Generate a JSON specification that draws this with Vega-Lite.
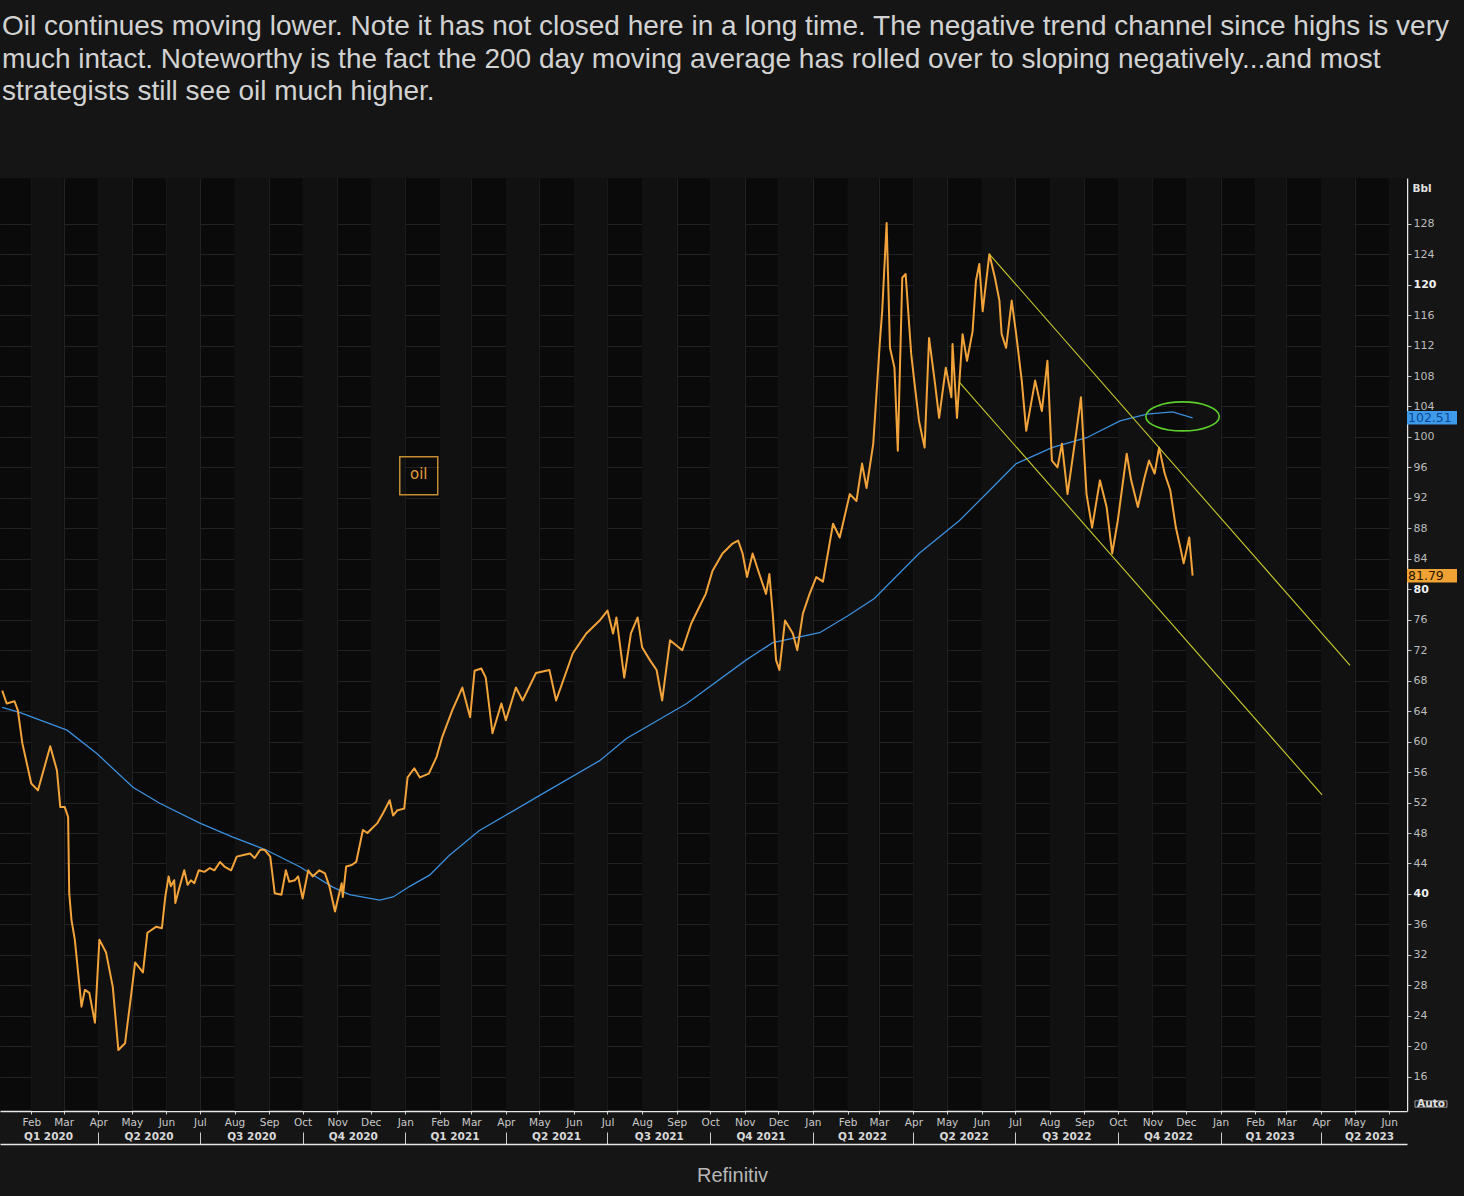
{
  "$schema": "https://vega.github.io/schema/vega-lite/v6.json",
  "width": 1407,
  "height": 933,
  "autosize": {"type": "none"},
  "padding": {"left": 0, "top": 178, "right": 57, "bottom": 85},
  "background": "#151515",
  "title": {
    "text": [
      "Oil continues moving lower. Note it has not closed here in a long time. The negative trend channel since highs is very",
      "much intact. Noteworthy is the fact the 200 day moving average has rolled over to sloping negatively...and most",
      "strategists still see oil much higher."
    ],
    "anchor": "start",
    "frame": "group",
    "font": "Liberation Sans",
    "fontSize": 28,
    "fontWeight": "normal",
    "color": "#d2d2d2",
    "lineHeight": 32.5,
    "offset": 72,
    "dx": 2
  },
  "config": {
    "view": {"fill": "#0a0a0a", "stroke": null},
    "axis": {"labelFont": "DejaVu Sans", "labelFontSize": 10.5, "labelColor": "#c8c8c8"}
  },
  "datasets": {
    "bands": [
      {"start": "2020-02-01", "end": "2020-03-01"}, {"start": "2020-04-01", "end": "2020-05-01"},
      {"start": "2020-06-01", "end": "2020-07-01"}, {"start": "2020-08-01", "end": "2020-09-01"},
      {"start": "2020-10-01", "end": "2020-11-01"}, {"start": "2020-12-01", "end": "2021-01-01"},
      {"start": "2021-02-01", "end": "2021-03-01"}, {"start": "2021-04-01", "end": "2021-05-01"},
      {"start": "2021-06-01", "end": "2021-07-01"}, {"start": "2021-08-01", "end": "2021-09-01"},
      {"start": "2021-10-01", "end": "2021-11-01"}, {"start": "2021-12-01", "end": "2022-01-01"},
      {"start": "2022-02-01", "end": "2022-03-01"}, {"start": "2022-04-01", "end": "2022-05-01"},
      {"start": "2022-06-01", "end": "2022-07-01"}, {"start": "2022-08-01", "end": "2022-09-01"},
      {"start": "2022-10-01", "end": "2022-11-01"}, {"start": "2022-12-01", "end": "2023-01-01"},
      {"start": "2023-02-01", "end": "2023-03-01"}, {"start": "2023-04-01", "end": "2023-05-01"},
      {"start": "2023-06-01", "end": "2023-07-01"}
    ],
    "oil": [
      {"date": "2020-01-06", "value": 66.7}, {"date": "2020-01-10", "value": 65.0}, {"date": "2020-01-17", "value": 65.3},
      {"date": "2020-01-20", "value": 64.1}, {"date": "2020-01-24", "value": 59.8}, {"date": "2020-02-01", "value": 54.5},
      {"date": "2020-02-07", "value": 53.6}, {"date": "2020-02-18", "value": 59.4}, {"date": "2020-02-24", "value": 56.2},
      {"date": "2020-02-27", "value": 51.4}, {"date": "2020-03-02", "value": 51.4}, {"date": "2020-03-05", "value": 50.1},
      {"date": "2020-03-06", "value": 40.1}, {"date": "2020-03-08", "value": 36.6}, {"date": "2020-03-11", "value": 34.0},
      {"date": "2020-03-17", "value": 25.2}, {"date": "2020-03-20", "value": 27.4}, {"date": "2020-03-24", "value": 27.0},
      {"date": "2020-03-29", "value": 23.1}, {"date": "2020-04-02", "value": 34.0}, {"date": "2020-04-08", "value": 32.3},
      {"date": "2020-04-14", "value": 27.8}, {"date": "2020-04-19", "value": 19.5}, {"date": "2020-04-25", "value": 20.4},
      {"date": "2020-05-01", "value": 27.4}, {"date": "2020-05-04", "value": 31.0}, {"date": "2020-05-11", "value": 29.7},
      {"date": "2020-05-15", "value": 34.9}, {"date": "2020-05-23", "value": 35.7}, {"date": "2020-05-28", "value": 35.5},
      {"date": "2020-05-31", "value": 39.6}, {"date": "2020-06-03", "value": 42.3}, {"date": "2020-06-05", "value": 41.0},
      {"date": "2020-06-08", "value": 41.8}, {"date": "2020-06-09", "value": 38.8}, {"date": "2020-06-12", "value": 40.5},
      {"date": "2020-06-17", "value": 43.1}, {"date": "2020-06-20", "value": 41.2}, {"date": "2020-06-23", "value": 41.8},
      {"date": "2020-06-26", "value": 41.4}, {"date": "2020-06-30", "value": 43.1}, {"date": "2020-07-05", "value": 42.9},
      {"date": "2020-07-10", "value": 43.4}, {"date": "2020-07-14", "value": 43.1}, {"date": "2020-07-19", "value": 44.2},
      {"date": "2020-07-23", "value": 43.6}, {"date": "2020-07-29", "value": 43.1}, {"date": "2020-08-03", "value": 44.9},
      {"date": "2020-08-09", "value": 45.1}, {"date": "2020-08-15", "value": 45.3}, {"date": "2020-08-19", "value": 44.7},
      {"date": "2020-08-24", "value": 45.8}, {"date": "2020-08-28", "value": 45.8}, {"date": "2020-09-02", "value": 44.9},
      {"date": "2020-09-06", "value": 40.1}, {"date": "2020-09-12", "value": 39.9}, {"date": "2020-09-16", "value": 43.1},
      {"date": "2020-09-19", "value": 41.6}, {"date": "2020-09-24", "value": 41.8}, {"date": "2020-09-27", "value": 42.3},
      {"date": "2020-10-01", "value": 39.4}, {"date": "2020-10-06", "value": 43.1}, {"date": "2020-10-10", "value": 42.3},
      {"date": "2020-10-16", "value": 43.1}, {"date": "2020-10-21", "value": 42.7}, {"date": "2020-10-25", "value": 41.0},
      {"date": "2020-10-30", "value": 37.7}, {"date": "2020-11-02", "value": 39.6}, {"date": "2020-11-05", "value": 41.4},
      {"date": "2020-11-06", "value": 39.6}, {"date": "2020-11-09", "value": 43.6}, {"date": "2020-11-14", "value": 43.8},
      {"date": "2020-11-18", "value": 44.2}, {"date": "2020-11-24", "value": 48.4}, {"date": "2020-11-28", "value": 48.0},
      {"date": "2020-12-02", "value": 48.6}, {"date": "2020-12-07", "value": 49.3}, {"date": "2020-12-12", "value": 50.6},
      {"date": "2020-12-18", "value": 52.3}, {"date": "2020-12-21", "value": 50.3}, {"date": "2020-12-25", "value": 51.0},
      {"date": "2020-12-31", "value": 51.2}, {"date": "2021-01-03", "value": 55.3},
      {"date": "2021-01-09", "value": 56.5}, {"date": "2021-01-14", "value": 55.3}, {"date": "2021-01-22", "value": 55.8},
      {"date": "2021-01-29", "value": 58.0}, {"date": "2021-02-03", "value": 60.6}, {"date": "2021-02-12", "value": 64.1},
      {"date": "2021-02-21", "value": 67.1}, {"date": "2021-02-28", "value": 63.2}, {"date": "2021-03-04", "value": 69.3},
      {"date": "2021-03-10", "value": 69.6}, {"date": "2021-03-14", "value": 68.4}, {"date": "2021-03-20", "value": 61.1},
      {"date": "2021-03-28", "value": 65.0}, {"date": "2021-04-01", "value": 62.8}, {"date": "2021-04-10", "value": 67.1},
      {"date": "2021-04-16", "value": 65.4}, {"date": "2021-04-28", "value": 69.0}, {"date": "2021-05-10", "value": 69.4},
      {"date": "2021-05-16", "value": 65.4}, {"date": "2021-05-31", "value": 71.6}, {"date": "2021-06-12", "value": 74.2},
      {"date": "2021-06-24", "value": 75.9}, {"date": "2021-07-01", "value": 77.2}, {"date": "2021-07-06", "value": 74.2},
      {"date": "2021-07-09", "value": 76.3}, {"date": "2021-07-16", "value": 68.4}, {"date": "2021-07-22", "value": 74.2},
      {"date": "2021-07-28", "value": 76.3}, {"date": "2021-08-01", "value": 72.4}, {"date": "2021-08-08", "value": 70.7},
      {"date": "2021-08-14", "value": 69.4}, {"date": "2021-08-19", "value": 65.4}, {"date": "2021-08-26", "value": 73.3},
      {"date": "2021-09-06", "value": 72.0}, {"date": "2021-09-14", "value": 75.5}, {"date": "2021-09-21", "value": 77.6},
      {"date": "2021-09-27", "value": 79.4}, {"date": "2021-10-03", "value": 82.4}, {"date": "2021-10-12", "value": 84.7},
      {"date": "2021-10-21", "value": 86.0}, {"date": "2021-10-26", "value": 86.4}, {"date": "2021-10-30", "value": 84.7},
      {"date": "2021-11-03", "value": 81.6}, {"date": "2021-11-08", "value": 84.7}, {"date": "2021-11-14", "value": 82.0},
      {"date": "2021-11-20", "value": 79.4}, {"date": "2021-11-23", "value": 82.0}, {"date": "2021-11-26", "value": 76.8},
      {"date": "2021-11-29", "value": 70.7}, {"date": "2021-12-02", "value": 69.4}, {"date": "2021-12-07", "value": 75.9},
      {"date": "2021-12-14", "value": 74.2}, {"date": "2021-12-18", "value": 72.0}, {"date": "2021-12-23", "value": 76.8},
      {"date": "2021-12-29", "value": 79.4}, {"date": "2022-01-04", "value": 81.6}, {"date": "2022-01-10", "value": 81.0},
      {"date": "2022-01-19", "value": 88.6}, {"date": "2022-01-25", "value": 86.8}, {"date": "2022-02-03", "value": 92.5},
      {"date": "2022-02-09", "value": 91.6}, {"date": "2022-02-14", "value": 96.5}, {"date": "2022-02-18", "value": 93.3},
      {"date": "2022-02-24", "value": 99.1}, {"date": "2022-03-02", "value": 112.6}, {"date": "2022-03-04", "value": 116.5},
      {"date": "2022-03-08", "value": 128.1}, {"date": "2022-03-11", "value": 111.7}, {"date": "2022-03-15", "value": 109.1},
      {"date": "2022-03-18", "value": 98.2}, {"date": "2022-03-22", "value": 120.9}, {"date": "2022-03-25", "value": 121.4},
      {"date": "2022-03-30", "value": 110.9}, {"date": "2022-04-02", "value": 107.0}, {"date": "2022-04-06", "value": 102.1},
      {"date": "2022-04-11", "value": 98.6}, {"date": "2022-04-15", "value": 113.0}, {"date": "2022-04-20", "value": 107.4},
      {"date": "2022-04-24", "value": 102.5}, {"date": "2022-04-30", "value": 109.1}, {"date": "2022-05-05", "value": 105.2},
      {"date": "2022-05-06", "value": 112.2}, {"date": "2022-05-10", "value": 102.5}, {"date": "2022-05-15", "value": 113.5},
      {"date": "2022-05-19", "value": 110.0}, {"date": "2022-05-24", "value": 113.9}, {"date": "2022-05-27", "value": 120.5},
      {"date": "2022-05-30", "value": 122.7}, {"date": "2022-06-02", "value": 116.5}, {"date": "2022-06-08", "value": 124.0},
      {"date": "2022-06-13", "value": 120.9}, {"date": "2022-06-17", "value": 117.9}, {"date": "2022-06-19", "value": 113.5},
      {"date": "2022-06-23", "value": 111.7}, {"date": "2022-06-28", "value": 117.9}, {"date": "2022-07-02", "value": 113.5},
      {"date": "2022-07-07", "value": 107.4}, {"date": "2022-07-11", "value": 100.8}, {"date": "2022-07-19", "value": 107.4},
      {"date": "2022-07-25", "value": 103.4}, {"date": "2022-07-30", "value": 110.0}, {"date": "2022-08-03", "value": 96.9},
      {"date": "2022-08-08", "value": 96.0}, {"date": "2022-08-12", "value": 99.1}, {"date": "2022-08-17", "value": 92.5},
      {"date": "2022-08-25", "value": 100.8}, {"date": "2022-08-29", "value": 105.2}, {"date": "2022-09-03", "value": 92.5},
      {"date": "2022-09-08", "value": 88.1}, {"date": "2022-09-15", "value": 94.3}, {"date": "2022-09-21", "value": 90.8},
      {"date": "2022-09-26", "value": 84.7}, {"date": "2022-10-01", "value": 89.0}, {"date": "2022-10-09", "value": 97.8},
      {"date": "2022-10-13", "value": 94.3}, {"date": "2022-10-19", "value": 90.8}, {"date": "2022-10-25", "value": 94.7},
      {"date": "2022-10-29", "value": 96.9}, {"date": "2022-11-03", "value": 95.2}, {"date": "2022-11-07", "value": 98.6},
      {"date": "2022-11-12", "value": 95.2}, {"date": "2022-11-17", "value": 93.0}, {"date": "2022-11-22", "value": 88.1},
      {"date": "2022-11-26", "value": 85.5}, {"date": "2022-11-29", "value": 83.4}, {"date": "2022-12-04", "value": 86.8},
      {"date": "2022-12-07", "value": 81.79}
    ],
    "ma": [
      {"date": "2020-01-06", "value": 64.5}, {"date": "2020-01-22", "value": 63.8}, {"date": "2020-03-04", "value": 61.5},
      {"date": "2020-03-31", "value": 58.4}, {"date": "2020-05-02", "value": 54.0}, {"date": "2020-05-26", "value": 51.9},
      {"date": "2020-07-01", "value": 49.3}, {"date": "2020-07-30", "value": 47.5}, {"date": "2020-08-29", "value": 45.8},
      {"date": "2020-09-28", "value": 43.6}, {"date": "2020-10-28", "value": 40.9}, {"date": "2020-11-12", "value": 39.9},
      {"date": "2020-12-09", "value": 39.2}, {"date": "2020-12-21", "value": 39.6}, {"date": "2021-01-05", "value": 41.0},
      {"date": "2021-01-23", "value": 42.5}, {"date": "2021-02-09", "value": 45.0}, {"date": "2021-03-08", "value": 48.3},
      {"date": "2021-05-01", "value": 52.9},
      {"date": "2021-06-24", "value": 57.5}, {"date": "2021-07-18", "value": 60.4}, {"date": "2021-09-10", "value": 65.0},
      {"date": "2021-11-02", "value": 70.7}, {"date": "2021-11-26", "value": 73.0}, {"date": "2022-01-07", "value": 74.3},
      {"date": "2022-02-01", "value": 76.5}, {"date": "2022-02-25", "value": 78.8}, {"date": "2022-04-06", "value": 84.7},
      {"date": "2022-05-12", "value": 89.0}, {"date": "2022-06-05", "value": 92.5}, {"date": "2022-07-02", "value": 96.5},
      {"date": "2022-08-03", "value": 98.6}, {"date": "2022-09-03", "value": 99.9}, {"date": "2022-10-03", "value": 102.1},
      {"date": "2022-10-27", "value": 103.0}, {"date": "2022-11-19", "value": 103.3}, {"date": "2022-12-07", "value": 102.51}
    ],
    "trend": [
      {"line": "upper", "date": "2022-06-08", "value": 124.0},
      {"line": "upper", "date": "2023-04-27", "value": 70.0},
      {"line": "lower", "date": "2022-05-12", "value": 107.2},
      {"line": "lower", "date": "2023-04-02", "value": 53.0}
    ],
    "circle": [{"date": "2022-11-28", "value": 102.7}],
    "legend": [{"date": "2021-01-13", "value": 94.9, "label": "oil"}],
    "last": [
      {"label": "102.51", "value": 102.51, "series": "ma"},
      {"label": "81.79", "value": 81.79, "series": "oil"}
    ],
    "auto": [{"label": "Auto"}]
  },
  "resolve": {"axis": {"x": "independent"}},
  "layer": [
    {
      "data": {"name": "bands"},
      "mark": {"type": "rect", "color": "#111111", "clip": true},
      "encoding": {
        "x": {
          "field": "start", "type": "temporal",
          "scale": {"type": "utc", "domain": [{"year": 2020, "month": 1, "date": 4, "utc": true}, {"year": 2023, "month": 6, "date": 17, "utc": true}]},
          "axis": null
        },
        "x2": {"field": "end"}
      }
    },
    {
      "data": {"name": "ma"},
      "mark": {"type": "line", "color": "#3b8fdc", "strokeWidth": 1.3},
      "encoding": {
        "x": {
          "field": "date", "type": "temporal",
          "scale": {"type": "utc", "domain": [{"year": 2020, "month": 1, "date": 4, "utc": true}, {"year": 2023, "month": 6, "date": 17, "utc": true}]},
          "axis": {
            "orient": "bottom", "offset": 18, "domain": false, "ticks": false, "tickSize": 0, "grid": false,
            "labelPadding": 2, "labelFontWeight": "bold", "labelColor": "#d8d8d8", "labelOverlap": false, "labelFlush": false,
            "values": [
              {"year": 2020, "month": 2, "date": 16, "utc": true}, {"year": 2020, "month": 5, "date": 16, "utc": true},
              {"year": 2020, "month": 8, "date": 16, "utc": true}, {"year": 2020, "month": 11, "date": 15, "utc": true},
              {"year": 2021, "month": 2, "date": 14, "utc": true}, {"year": 2021, "month": 5, "date": 16, "utc": true},
              {"year": 2021, "month": 8, "date": 16, "utc": true}, {"year": 2021, "month": 11, "date": 15, "utc": true},
              {"year": 2022, "month": 2, "date": 14, "utc": true}, {"year": 2022, "month": 5, "date": 16, "utc": true},
              {"year": 2022, "month": 8, "date": 16, "utc": true}, {"year": 2022, "month": 11, "date": 15, "utc": true},
              {"year": 2023, "month": 2, "date": 14, "utc": true}, {"year": 2023, "month": 5, "date": 14, "utc": true}
            ],
            "labelExpr": "'Q' + (floor(utcmonth(datum.value) / 3) + 1) + ' ' + utcyear(datum.value)",
            "title": null
          }
        },
        "y": {"field": "value", "type": "quantitative", "scale": {"domain": [11.5, 134], "nice": false, "zero": false}}
      }
    },
    {
      "data": {"name": "oil"},
      "mark": {"type": "line", "color": "#f2a33a", "strokeWidth": 2, "strokeJoin": "round"},
      "encoding": {
        "x": {
          "field": "date", "type": "temporal",
          "scale": {"type": "utc", "domain": [{"year": 2020, "month": 1, "date": 4, "utc": true}, {"year": 2023, "month": 6, "date": 17, "utc": true}]},
          "axis": {
            "orient": "bottom", "domainColor": "#e8e8e8", "domainWidth": 1.5, "tickColor": "#cccccc", "tickSize": 3,
            "tickCount": {"interval": "month", "step": 1}, "labelPadding": 3, "labelOverlap": false, "labelFlush": false,
            "labelExpr": "utcFormat(datum.value, '%b')", "grid": true, "gridColor": "#222222", "gridWidth": 1,
            "title": null
          }
        },
        "y": {
          "field": "value", "type": "quantitative",
          "scale": {"domain": [11.5, 134], "nice": false, "zero": false},
          "axis": {
            "orient": "right", "domainColor": "#e8e8e8", "domainWidth": 1.5, "tickColor": "#bbbbbb", "tickSize": 4,
            "labelPadding": 2, "grid": true, "gridColor": "#222222", "gridWidth": 1, "labelOverlap": false, "labelFontSize": 11,
            "tickCount": 60,
            "values": [16, 20, 24, 28, 32, 36, 40, 44, 48, 52, 56, 60, 64, 68, 72, 76, 80, 84, 88, 92, 96, 100, 104, 108, 112, 116, 120, 124, 128],
            "labelFontWeight": {"condition": {"test": "datum.value % 40 === 0", "value": "bold"}, "value": "normal"},
            "labelColor": {"condition": {"test": "datum.value % 40 === 0", "value": "#f0f0f0"}, "value": "#bcbcbc"},
            "title": "Bbl", "titleAngle": 0, "titleAlign": "left", "titleBaseline": "middle",
            "titleX": 5, "titleY": 10, "titleFont": "DejaVu Sans", "titleFontSize": 10.5, "titleFontWeight": "bold", "titleColor": "#e0e0e0"
          }
        }
      }
    },
    {
      "data": {"name": "trend"},
      "mark": {"type": "line", "color": "#c8cb2c", "strokeWidth": 1.1},
      "encoding": {
        "x": {
          "field": "date", "type": "temporal",
          "scale": {"type": "utc", "domain": [{"year": 2020, "month": 1, "date": 4, "utc": true}, {"year": 2023, "month": 6, "date": 17, "utc": true}]},
          "axis": {
            "orient": "bottom", "offset": 33, "domainColor": "#e8e8e8", "domainWidth": 1.5, "tickColor": "#cccccc",
            "tickSize": -12, "labels": false, "grid": false,
            "values": [
              {"year": 2020, "month": 4, "date": 1, "utc": true}, {"year": 2020, "month": 7, "date": 1, "utc": true},
              {"year": 2020, "month": 10, "date": 1, "utc": true}, {"year": 2021, "month": 1, "date": 1, "utc": true},
              {"year": 2021, "month": 4, "date": 1, "utc": true}, {"year": 2021, "month": 7, "date": 1, "utc": true},
              {"year": 2021, "month": 10, "date": 1, "utc": true}, {"year": 2022, "month": 1, "date": 1, "utc": true},
              {"year": 2022, "month": 4, "date": 1, "utc": true}, {"year": 2022, "month": 7, "date": 1, "utc": true},
              {"year": 2022, "month": 10, "date": 1, "utc": true}, {"year": 2023, "month": 1, "date": 1, "utc": true},
              {"year": 2023, "month": 4, "date": 1, "utc": true}
            ],
            "title": "Refinitiv", "titleFont": "Liberation Sans", "titleFontSize": 20, "titleFontWeight": "normal",
            "titleColor": "#b8b8b8", "titleX": 732, "titleY": 31, "titleAlign": "center", "titleBaseline": "middle"
          }
        },
        "y": {"field": "value", "type": "quantitative", "scale": {"domain": [11.5, 134], "nice": false, "zero": false}},
        "detail": {"field": "line"}
      }
    },
    {
      "data": {"name": "circle"},
      "mark": {
        "type": "point", "filled": false, "stroke": "#5ccf2c", "strokeWidth": 1.6, "size": 5390, "opacity": 1,
        "shape": "M -1 0 C -1 -0.2182 -0.5523 -0.395 0 -0.395 C 0.5523 -0.395 1 -0.2182 1 0 C 1 0.2182 0.5523 0.395 0 0.395 C -0.5523 0.395 -1 0.2182 -1 0 Z"
      },
      "encoding": {
        "x": {"field": "date", "type": "temporal", "scale": {"type": "utc", "domain": [{"year": 2020, "month": 1, "date": 4, "utc": true}, {"year": 2023, "month": 6, "date": 17, "utc": true}]}, "axis": null},
        "y": {"field": "value", "type": "quantitative", "scale": {"domain": [11.5, 134], "nice": false, "zero": false}}
      }
    },
    {
      "data": {"name": "legend"},
      "mark": {"type": "point", "shape": "square", "filled": false, "stroke": "#c48c34", "strokeWidth": 1.5, "size": 1444, "opacity": 1},
      "encoding": {
        "x": {"field": "date", "type": "temporal", "scale": {"type": "utc", "domain": [{"year": 2020, "month": 1, "date": 4, "utc": true}, {"year": 2023, "month": 6, "date": 17, "utc": true}]}, "axis": null},
        "y": {"field": "value", "type": "quantitative", "scale": {"domain": [11.5, 134], "nice": false, "zero": false}}
      }
    },
    {
      "data": {"name": "legend"},
      "mark": {"type": "text", "color": "#e39c3a", "font": "DejaVu Sans", "fontSize": 15, "align": "center", "baseline": "middle", "dy": -2},
      "encoding": {
        "x": {"field": "date", "type": "temporal", "scale": {"type": "utc", "domain": [{"year": 2020, "month": 1, "date": 4, "utc": true}, {"year": 2023, "month": 6, "date": 17, "utc": true}]}, "axis": null},
        "y": {"field": "value", "type": "quantitative", "scale": {"domain": [11.5, 134], "nice": false, "zero": false}},
        "text": {"field": "label"}
      }
    },
    {
      "data": {"name": "last"},
      "mark": {
        "type": "point", "filled": true, "opacity": 1, "size": 2500, "xOffset": 25, "strokeWidth": 0,
        "shape": "M -1 -0.27 L 1 -0.27 L 1 0.27 L -1 0.27 Z"
      },
      "encoding": {
        "x": {"value": "width"},
        "y": {"field": "value", "type": "quantitative", "scale": {"domain": [11.5, 134], "nice": false, "zero": false}},
        "color": {"condition": {"test": "datum.series === 'ma'", "value": "#3d9be9"}, "value": "#f0a233"}
      }
    },
    {
      "data": {"name": "last"},
      "mark": {"type": "text", "align": "left", "baseline": "middle", "dx": 1, "font": "DejaVu Sans", "fontSize": 12.5},
      "encoding": {
        "x": {"value": "width"},
        "y": {"field": "value", "type": "quantitative", "scale": {"domain": [11.5, 134], "nice": false, "zero": false}},
        "text": {"field": "label"},
        "color": {"condition": {"test": "datum.series === 'ma'", "value": "#0b4796"}, "value": "#2a1600"},
        "fontWeight": {"condition": {"test": "datum.series === 'oil'", "value": "bold"}, "value": "normal"}
      }
    },
    {
      "data": {"name": "auto"},
      "mark": {
        "type": "point", "filled": false, "opacity": 1, "size": 1024, "xOffset": 24, "yOffset": -7, "stroke": "#9a9a9a", "strokeWidth": 1,
        "shape": "M -1 -0.2 L 1 -0.2 L 1 0.2 L -1 0.2 Z"
      },
      "encoding": {"x": {"value": "width"}, "y": {"value": "height"}}
    },
    {
      "data": {"name": "auto"},
      "mark": {"type": "text", "align": "center", "baseline": "middle", "xOffset": 24, "yOffset": -7, "font": "DejaVu Sans", "fontSize": 10.5, "fontWeight": "bold", "color": "#e0e0e0"},
      "encoding": {"x": {"value": "width"}, "y": {"value": "height"}, "text": {"field": "label"}}
    }
  ]
}
